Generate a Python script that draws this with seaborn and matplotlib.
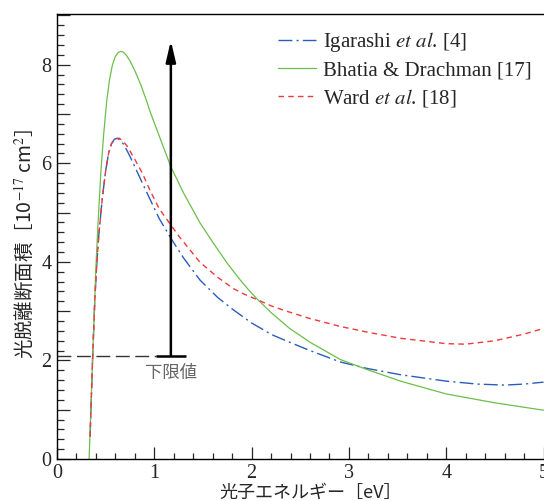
import matplotlib
matplotlib.use("Agg")
import matplotlib.pyplot as plt
import seaborn as sns
import pandas as pd
from matplotlib.ticker import MultipleLocator, FuncFormatter
from matplotlib.patches import ArrowStyle

# ---------------- data ----------------
igarashi_x = [0.34, 0.367, 0.39, 0.41, 0.43, 0.466, 0.50, 0.53, 0.56, 0.59, 0.62, 0.65, 0.69,
              0.74, 0.80, 0.877, 0.956, 1.05, 1.18, 1.30, 1.47, 1.65, 1.81, 2.0, 2.21, 2.39,
              2.6, 2.91, 3.18, 3.53, 4.0, 4.32, 4.6, 4.8, 5.0]
igarashi_y = [0.45, 2.1, 3.3, 4.0, 4.55, 5.3, 5.85, 6.2, 6.4, 6.49, 6.51, 6.47, 6.37,
              6.18, 5.93, 5.60, 5.27, 4.88, 4.45, 4.08, 3.63, 3.28, 3.03, 2.76, 2.52, 2.37,
              2.20, 1.97, 1.84, 1.71, 1.58, 1.52, 1.50, 1.52, 1.56]

bhatia_x = [0.33, 0.367, 0.40, 0.42, 0.45, 0.48, 0.51, 0.54, 0.57, 0.60, 0.63, 0.655, 0.68,
            0.71, 0.75, 0.80, 0.86, 0.92, 0.956, 1.0, 1.17, 1.30, 1.47, 1.60, 1.75, 1.88,
            1.97, 2.05, 2.20, 2.39, 2.60, 2.91, 3.18, 3.53, 4.0, 4.5, 5.0]
bhatia_y = [0.0, 2.1, 3.9, 4.72, 5.8, 6.6, 7.25, 7.7, 8.0, 8.17, 8.25, 8.27, 8.26,
            8.2, 8.08, 7.88, 7.6, 7.27, 7.05, 6.82, 5.93, 5.40, 4.79, 4.40, 3.97, 3.64,
            3.43, 3.26, 2.97, 2.65, 2.37, 2.02, 1.82, 1.58, 1.32, 1.14, 0.99]

ward_x = [0.34, 0.367, 0.39, 0.41, 0.43, 0.466, 0.50, 0.53, 0.56, 0.60, 0.64, 0.68, 0.72,
          0.80, 0.877, 0.956, 1.05, 1.18, 1.257, 1.47, 1.65, 1.81, 1.93, 2.05, 2.21, 2.39,
          2.6, 2.91, 3.2, 3.53, 4.0, 4.2, 4.5, 4.81, 5.0]
ward_y = [0.45, 2.1, 3.3, 4.0, 4.55, 5.3, 5.85, 6.2, 6.4, 6.49, 6.51, 6.45, 6.35,
          6.08, 5.80, 5.45, 5.08, 4.72, 4.51, 3.99, 3.69, 3.46, 3.34, 3.24, 3.10, 2.98,
          2.85, 2.69, 2.57, 2.45, 2.34, 2.33, 2.40, 2.54, 2.65]

series_labels = [r"Igarashi $\it{et\ al}$. [4]", "Bhatia & Drachman [17]", r"Ward $\it{et\ al}$. [18]"]

lower_limit = 2.1       # 下限値
arrow_x = 1.17
arrow_top = 8.49
tee_half = 0.155
note_y = 1.75
note_text = "下限値"
xlabel = "光子エネルギー［eV］"
ylabel = r"光脱離断面積［10$^{-17}$ cm$^{2}$］"

# ---------------- style ----------------
sns.set_style("ticks")
plt.rcParams["font.family"] = ["Liberation Serif", "Noto Sans CJK JP", "DejaVu Sans"]
plt.rcParams["mathtext.fontset"] = "stix"

fig = plt.figure(figsize=(5.44, 5.01), dpi=100)
ax = fig.add_axes([57 / 544, 42 / 501, 535.2 / 544, 445 / 501])

blue, green, red = "#2b5cbb", "#6bbf4a", "#ee3a3a"

df_i = pd.DataFrame({"x": igarashi_x, "y": igarashi_y})
df_b = pd.DataFrame({"x": bhatia_x, "y": bhatia_y})
df_w = pd.DataFrame({"x": ward_x, "y": ward_y})

sns.lineplot(data=df_i, x="x", y="y", ax=ax, color=blue, lw=1.0, sort=False, estimator=None,
             linestyle=(0, (10, 3, 1.5, 3)), label=series_labels[0])
sns.lineplot(data=df_b, x="x", y="y", ax=ax, color=green, lw=0.9, sort=False, estimator=None,
             linestyle="-", label=series_labels[1])
sns.lineplot(data=df_w, x="x", y="y", ax=ax, color=red, lw=1.0, sort=False, estimator=None,
             linestyle=(0, (4, 3)), label=series_labels[2])

# lower-limit annotation
ax.plot([0, arrow_x - tee_half], [lower_limit, lower_limit], color="#333333", lw=1.0,
        linestyle=(0, (10, 4)))
ax.plot([arrow_x - tee_half, arrow_x + tee_half], [lower_limit, lower_limit], color="black", lw=1.8,
        solid_capstyle="butt")
ax.annotate("", xy=(arrow_x, arrow_top), xytext=(arrow_x, lower_limit),
            arrowprops=dict(arrowstyle=ArrowStyle("-|>", head_length=0.6, head_width=0.14),
                            mutation_scale=21, lw=1.8, color="black", shrinkA=0, shrinkB=0))
ax.text(arrow_x, note_y, note_text, ha="center", va="center", fontsize=12.5, color="#666666",
        family=["Noto Sans CJK JP"])

# axes
ax.set_xlim(0, 5.5)
ax.set_ylim(0, 9.03)
ax.xaxis.set_major_locator(MultipleLocator(1))
ax.xaxis.set_minor_locator(MultipleLocator(0.2))
ax.yaxis.set_major_locator(MultipleLocator(1))
ax.yaxis.set_minor_locator(MultipleLocator(0.2))
ax.yaxis.set_major_formatter(FuncFormatter(lambda v, p: f"{v:.0f}" if round(v) % 2 == 0 else ""))
ax.tick_params(axis="x", which="major", direction="in", length=8.5, width=0.9, labelsize=14.5, pad=3.5)
ax.tick_params(axis="x", which="minor", direction="in", length=4, width=0.9)
ax.tick_params(axis="y", which="major", direction="in", length=9.5, width=0.9, labelsize=14.5, pad=4)
ax.tick_params(axis="y", which="minor", direction="in", length=5, width=0.9)
for s in ["left", "bottom", "top"]:
    ax.spines[s].set_linewidth(1.0)
    ax.spines[s].set_color("black")
ax.spines["right"].set_visible(False)

ax.set_xlabel(xlabel, fontsize=13, family=["Noto Sans CJK JP", "Liberation Serif"])
ax.xaxis.set_label_coords(0.473, -0.055)
ax.xaxis.label.set_va("top")
ax.set_ylabel(ylabel, fontsize=14, family=["Noto Sans CJK JP"])
ax.yaxis.set_label_coords(-0.061, 0.483)
ax.yaxis.label.set_va("center")

handles, labels = ax.get_legend_handles_labels()
leg = ax.legend(handles, labels, loc="upper left", bbox_to_anchor=(278 / 544, 1 - 30.5 / 501),
                bbox_transform=fig.transFigure, frameon=False, fontsize=15, borderpad=0,
                borderaxespad=0, handlelength=1.8, handletextpad=0.37, labelspacing=0.3)

fig.savefig("out.png", dpi=100)
